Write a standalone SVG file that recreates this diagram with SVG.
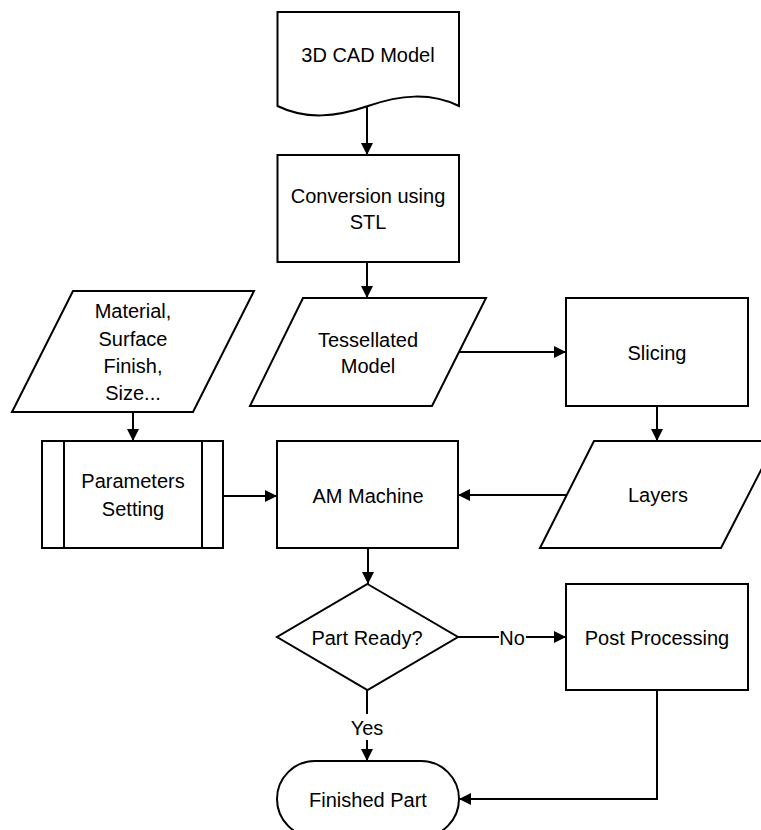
<svg xmlns="http://www.w3.org/2000/svg" width="761" height="830" viewBox="0 0 761 830">
  <style>
    .shape { fill: #ffffff; stroke: #000000; stroke-width: 2; stroke-linejoin: miter; }
    .line { fill: none; stroke: #000000; stroke-width: 2; }
    .label { font-family: "Liberation Sans", Arial, sans-serif; font-size: 20px; fill: #000000; text-anchor: middle; }
    .tag-bg { fill: #ffffff; stroke: none; }
  </style>
  <defs>
    <marker id="arrow" viewBox="0 0 12 12" refX="12" refY="6" markerWidth="12" markerHeight="12" markerUnits="userSpaceOnUse" orient="auto">
      <path d="M0,0 L12,6 L0,12 Z" fill="#000000"/>
    </marker>
  </defs>

  <rect x="0" y="0" width="761" height="830" fill="#ffffff"/>

  <!-- connectors -->
  <g id="connectors">
    <path class="line" d="M367,106 V155" marker-end="url(#arrow)"/>
    <path class="line" d="M367,262 V298" marker-end="url(#arrow)"/>
    <path class="line" d="M459,352 H566" marker-end="url(#arrow)"/>
    <path class="line" d="M657,406 V441" marker-end="url(#arrow)"/>
    <path class="line" d="M133,412 V441" marker-end="url(#arrow)"/>
    <path class="line" d="M223,496 H277" marker-end="url(#arrow)"/>
    <path class="line" d="M567,495 H458" marker-end="url(#arrow)"/>
    <path class="line" d="M368,548 V584" marker-end="url(#arrow)"/>
    <path class="line" d="M458,637 H566" marker-end="url(#arrow)"/>
    <path class="line" d="M367,690 V761" marker-end="url(#arrow)"/>
    <path class="line" d="M657,690 V799 H459" marker-end="url(#arrow)"/>
    <g id="label-no">
      <rect class="tag-bg" x="499" y="626" width="27" height="24"/>
      <text class="label" x="512" y="645">No</text>
    </g>
    <g id="label-yes">
      <rect class="tag-bg" x="350" y="714" width="34" height="26"/>
      <text class="label" x="367" y="735">Yes</text>
    </g>
  </g>

  <!-- document -->
  <g id="cad-model">
    <path class="shape" d="M277.5,12 H459 V106 C430,92 400,95 368,106 C336,117 306,120 277.5,106 Z"/>
    <text class="label" x="368" y="62">3D CAD Model</text>
  </g>

  <!-- process -->
  <g id="conversion">
    <rect class="shape" x="277.5" y="155" width="181.5" height="107"/>
    <text class="label" x="368" y="203">Conversion using</text>
    <text class="label" x="368" y="229">STL</text>
  </g>

  <!-- data -->
  <g id="tessellated">
    <path class="shape" d="M303,298 H486 L432,406 H250 Z"/>
    <text class="label" x="368" y="347">Tessellated</text>
    <text class="label" x="368" y="373">Model</text>
  </g>

  <g id="slicing">
    <rect class="shape" x="566" y="298" width="182" height="108"/>
    <text class="label" x="657" y="360">Slicing</text>
  </g>

  <g id="material">
    <path class="shape" d="M73,291 H254 L193,412 H12 Z"/>
    <text class="label" x="133" y="318">Material,</text>
    <text class="label" x="133" y="346">Surface</text>
    <text class="label" x="133" y="373">Finish,</text>
    <text class="label" x="133" y="400">Size...</text>
  </g>

  <!-- predefined process -->
  <g id="parameters">
    <rect class="shape" x="42" y="441" width="181" height="107"/>
    <line class="line" x1="64" y1="441" x2="64" y2="548"/>
    <line class="line" x1="202" y1="441" x2="202" y2="548"/>
    <text class="label" x="133" y="488">Parameters</text>
    <text class="label" x="133" y="516">Setting</text>
  </g>

  <g id="am-machine">
    <rect class="shape" x="277" y="441" width="181" height="107"/>
    <text class="label" x="368" y="503">AM Machine</text>
  </g>

  <g id="layers">
    <path class="shape" d="M594,441 H776 L721,548 H540 Z"/>
    <text class="label" x="658" y="502">Layers</text>
  </g>

  <!-- decision -->
  <g id="part-ready">
    <path class="shape" d="M367.5,584 L458,637 L367.5,690 L277,637 Z"/>
    <text class="label" x="367" y="645">Part Ready?</text>
  </g>

  <g id="post-processing">
    <rect class="shape" x="566" y="584" width="182" height="106"/>
    <text class="label" x="657" y="645">Post Processing</text>
  </g>

  <!-- terminator -->
  <g id="finished-part">
    <rect class="shape" x="277" y="761" width="182" height="76" rx="38" ry="38"/>
    <text class="label" x="368" y="807">Finished Part</text>
  </g>
</svg>
